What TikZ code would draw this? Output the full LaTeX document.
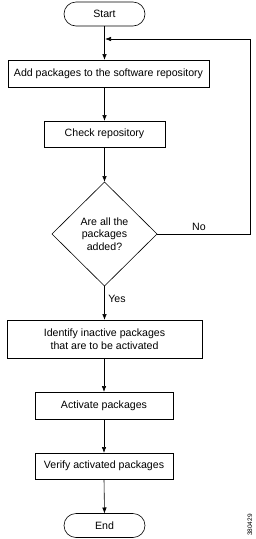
\documentclass[tikz,border=0pt]{standalone}
\usepackage{fontspec}
\setmainfont{Liberation Sans}
\usetikzlibrary{shapes.geometric,arrows.meta}
\begin{document}
\begin{tikzpicture}[x=1pt,y=-1pt,
  every node/.style={font=\fontsize{10.6}{12.5}\selectfont, inner sep=0pt, outer sep=0pt},
  term/.style={draw, rounded corners=12pt, minimum height=24pt, line width=0.6pt},
  procbox/.style={draw, rectangle, line width=0.6pt, align=center},
  decision/.style={draw, diamond, line width=0.6pt, align=center, minimum width=105pt, minimum height=104pt, inner sep=0pt},
  conn/.style={line width=0.6pt, -{Latex[length=6pt,width=4.5pt]}},
  plain/.style={line width=0.6pt}]
\useasboundingbox (0,0) rectangle (256,539);
\node[term, minimum width=81pt] (start) at (104.5,14) {Start};
\node[procbox, minimum width=201pt, minimum height=27pt] (add) at (108.5,73.5) {Add packages to the software repository};
\node[procbox, minimum width=121pt, minimum height=26pt] (check) at (104.5,134) {Check repository};
\node[decision] (dec) at (104.5,234) {Are all the\\packages\\added?};
\node[procbox, minimum width=195pt, minimum height=38pt] (ident) at (104.5,339) {Identify inactive packages\\that are to be activated};
\node[procbox, minimum width=138pt, minimum height=27pt] (act) at (104,405.5) {Activate packages};
\node[procbox, minimum width=138pt, minimum height=26pt] (ver) at (104,466) {Verify activated packages};
\node[term, minimum width=81pt] (end) at (104.5,525.5) {End};
\coordinate (loopc) at (250,39);
\coordinate (merge) at (105,39);
\draw[conn] (start.south) -- (start.south |- add.north);
\draw[conn] (add.south -| check.north) -- (check.north);
\draw[conn] (check.south) -- (dec.north);
\draw[conn] (dec.south) -- (ident.north);
\draw[conn] (ident.south -| act.north) -- (act.north);
\draw[conn] (act.south) -- (ver.north);
\draw[conn] (ver.south) -- (end.north);
\draw[plain] (dec.east) -| (loopc);
\draw[conn] (loopc) -- (merge);
\node at (199,227) {No};
\node at (117,299) {Yes};
\node[rotate=90, font=\fontsize{6.5}{7}\selectfont] (id) at (250,525) {380429};
\end{tikzpicture}
\end{document}
